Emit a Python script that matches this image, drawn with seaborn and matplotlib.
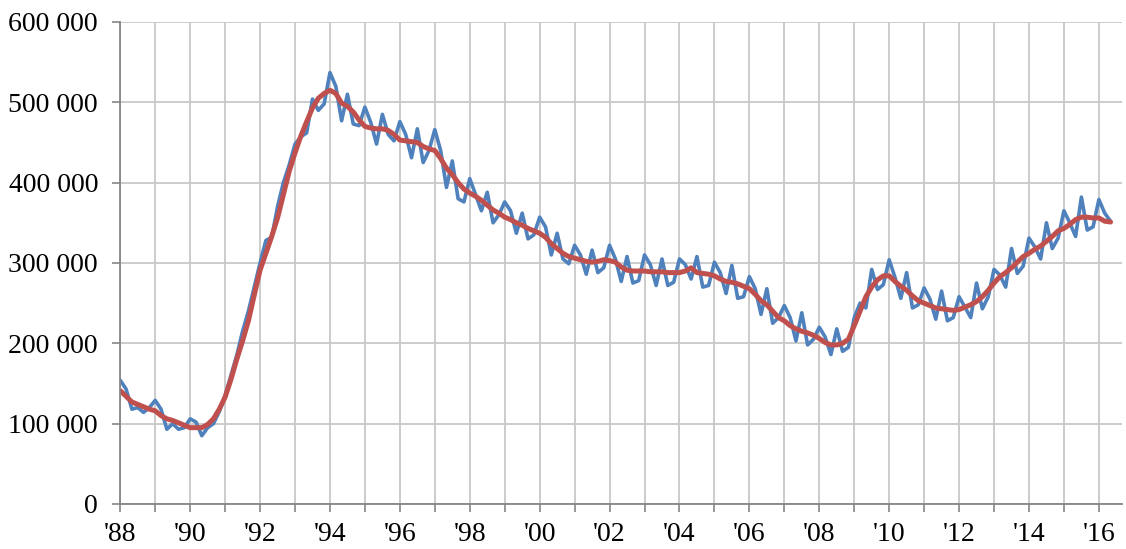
import matplotlib.pyplot as plt
import numpy as np
import pandas as pd
import seaborn as sns
from matplotlib.ticker import FuncFormatter

YEARS = list(range(1988, 2017))
MONTHS = [1, 3, 5, 7, 9, 11]  # bimonthly readings

# blue series (thousands), Jan/Mar/May/Jul/Sep/Nov
raw = [
    154, 143, 118, 120, 114, 120,   # 1988
    129, 118, 93, 100, 93, 95,      # 1989
    106, 102, 85, 95, 100, 115,     # 1990
    135, 160, 185, 215, 240, 270,   # 1991
    300, 328, 332, 370, 400, 422,   # 1992
    448, 457, 462, 504, 490, 498,   # 1993
    537, 520, 477, 510, 473, 471,   # 1994
    494, 475, 448, 485, 460, 452,   # 1995
    476, 460, 431, 467, 425, 440,   # 1996
    466, 440, 394, 427, 380, 376,   # 1997
    405, 385, 365, 388, 350, 360,   # 1998
    376, 365, 337, 362, 330, 335,   # 1999
    357, 345, 310, 337, 305, 299,   # 2000
    322, 310, 286, 316, 288, 294,   # 2001
    322, 305, 277, 308, 275, 278,   # 2002
    310, 298, 272, 305, 272, 276,   # 2003
    305, 298, 280, 308, 270, 272,   # 2004
    301, 288, 262, 297, 256, 258,   # 2005
    283, 268, 236, 268, 225, 232,   # 2006
    247, 232, 203, 238, 198, 205,   # 2007
    220, 208, 186, 218, 190, 195,   # 2008
    232, 250, 244, 292, 267, 273,   # 2009
    304, 282, 256, 288, 244, 248,   # 2010
    269, 255, 230, 265, 228, 232,   # 2011
    258, 245, 232, 275, 243, 258,   # 2012
    292, 285, 270, 318, 287, 296,   # 2013
    331, 320, 305, 350, 318, 331,   # 2014
    365, 350, 333, 382, 341, 345,   # 2015
    379, 362, 352,                  # 2016
]

# red trend (thousands), same months
trend = [
    141, 134, 127, 124, 121, 118,   # 1988
    116, 110, 106, 104, 101, 98,    # 1989
    95, 95, 95, 99, 106, 118,       # 1990
    133, 155, 180, 203, 228, 260,   # 1991
    291, 312, 333, 356, 385, 414,   # 1992
    437, 458, 476, 493, 505, 511,   # 1993
    515, 511, 499, 495, 488, 478,   # 1994
    470, 468, 467, 467, 465, 460,   # 1995
    453, 452, 451, 450, 445, 442,   # 1996
    440, 430, 418, 410, 400, 392,   # 1997
    387, 383, 378, 372, 366, 362,   # 1998
    357, 354, 350, 347, 343, 340,   # 1999
    337, 332, 324, 318, 312, 308,   # 2000
    306, 304, 302, 301, 302, 304,   # 2001
    303, 301, 295, 291, 290, 290,   # 2002
    290, 289, 289, 289, 288, 288,   # 2003
    288, 290, 294, 288, 287, 286,   # 2004
    284, 280, 277, 276, 274, 271,   # 2005
    268, 261, 253, 248, 240, 232,   # 2006
    228, 222, 218, 215, 213, 210,   # 2007
    206, 201, 198, 198, 200, 205,   # 2008
    222, 240, 258, 270, 279, 284,   # 2009
    284, 277, 271, 266, 259, 253,   # 2010
    250, 247, 244, 243, 242, 241,   # 2011
    242, 245, 248, 252, 258, 266,   # 2012
    275, 283, 288, 294, 301, 308,   # 2013
    312, 317, 321, 327, 333, 340,   # 2014
    343, 348, 354, 357, 357, 356,   # 2015
    356, 352, 351,                  # 2016
]

t = [y + (m - 1) / 12 for y in YEARS for m in MONTHS][:len(raw)]
df = pd.DataFrame({"t": t, "raw": np.array(raw) * 1000, "trend": np.array(trend) * 1000})

sns.set_style("white")
plt.rcParams["font.family"] = ["Liberation Serif", "DejaVu Serif"]

fig, ax = plt.subplots(figsize=(11.26, 5.49), dpi=100)
fig.subplots_adjust(left=0.1068, right=0.9964, top=0.96, bottom=0.082)

sns.lineplot(data=df, x="t", y="raw", color="#4F81BD", linewidth=2.6, ax=ax)
sns.lineplot(data=df, x="t", y="trend", color="#C0504D", linewidth=3.6, ax=ax)

ax.set_xlim(1988, 2016.66)
ax.set_ylim(0, 600000)
ax.set_xticks(YEARS)
ax.set_xticklabels(["'%02d" % (y % 100) if y % 2 == 0 else "" for y in YEARS])
ax.set_yticks(range(0, 600001, 100000))
ax.yaxis.set_major_formatter(FuncFormatter(lambda v, p: f"{int(v):,}".replace(",", " ")))

ax.grid(True, color="#C8C8C8", linewidth=1.3)
ax.set_axisbelow(True)
for s in ["top", "right"]:
    ax.spines[s].set_visible(False)
for s in ["left", "bottom"]:
    ax.spines[s].set_color("#868686")
    ax.spines[s].set_linewidth(1.3)
ax.tick_params(axis="both", direction="out", length=6, width=1.2, color="#868686",
               labelsize=20, labelcolor="black", bottom=True, left=True)
ax.tick_params(axis="x", pad=7)
ax.tick_params(axis="y", pad=10)
ax.set_xlabel("")
ax.set_ylabel("")

plt.savefig("out.png", dpi=100)
